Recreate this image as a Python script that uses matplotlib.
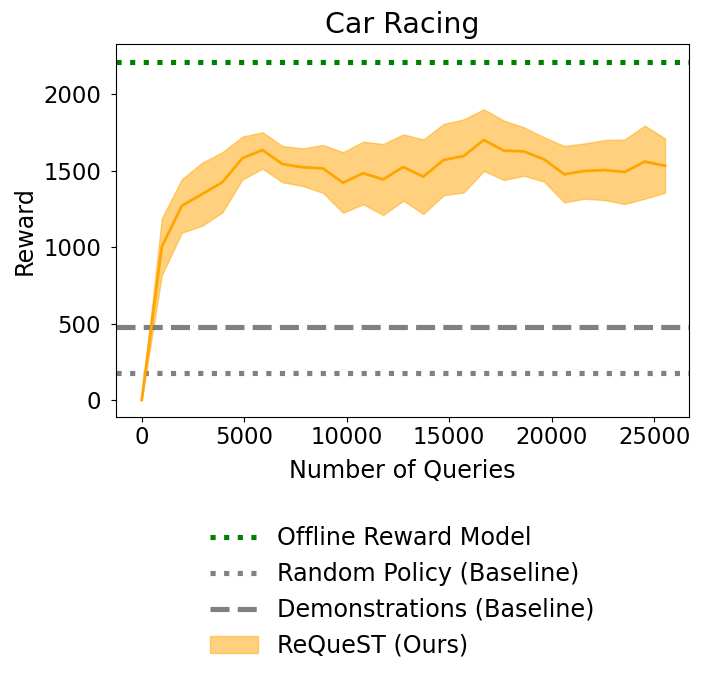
import numpy as np
import matplotlib.pyplot as plt

# number of queries at each evaluation step
queries = [0, 980, 1960, 2950, 3930, 4910, 5890, 6870, 7850, 8840, 9820,
           10800, 11780, 12760, 13740, 14730, 15710, 16690, 17670, 18650,
           19630, 20620, 21600, 22580, 23560, 24540, 25530]

mean_reward = [0, 1002, 1270, 1346, 1423, 1580, 1634, 1542, 1521, 1514, 1420,
               1482, 1442, 1523, 1460, 1569, 1595, 1699, 1630, 1625, 1573,
               1475, 1497, 1503, 1490, 1558, 1531]

upper_reward = [0, 1187, 1444, 1551, 1619, 1721, 1750, 1660, 1645, 1667, 1619,
                1688, 1673, 1736, 1703, 1804, 1834, 1900, 1826, 1782, 1717,
                1660, 1677, 1699, 1703, 1793, 1710]

lower_reward = [0, 817, 1094, 1139, 1226, 1442, 1512, 1423, 1399, 1355, 1224,
                1279, 1209, 1303, 1216, 1338, 1357, 1497, 1438, 1466, 1427,
                1292, 1316, 1307, 1281, 1316, 1355]

offline_reward = 2209
random_reward = 174
demo_reward = 479

plt.rcParams['font.family'] = ['DejaVu Sans']
fs = 17.2

fig = plt.figure(figsize=(7.05, 6.8), dpi=100)
ax = fig.add_axes([0.1641, 0.3872, 0.8132, 0.5477])

# baselines
l1 = ax.axhline(offline_reward, color='green', linestyle=':', linewidth=3.7,
                label='Offline Reward Model')
l2 = ax.axhline(random_reward, color='gray', linestyle=':', linewidth=3.7,
                label='Random Policy (Baseline)')
l3 = ax.axhline(demo_reward, color='gray', linestyle='--', linewidth=3.7,
                label='Demonstrations (Baseline)')
# ReQueST mean and spread
band = ax.fill_between(queries, lower_reward, upper_reward, color='orange',
                       alpha=0.5, label='ReQueST (Ours)')
ax.plot(queries, mean_reward, color='orange', linewidth=2)

ax.set_xlim(-1270, 26700)
ax.set_ylim(-109, 2325)
ax.set_xticks([0, 5000, 10000, 15000, 20000, 25000])
ax.set_yticks([0, 500, 1000, 1500, 2000])
ax.tick_params(axis='x', labelsize=16.4)
ax.tick_params(axis='y', labelsize=16.4, pad=7)
ax.set_title('Car Racing', fontsize=20.5, pad=8)
ax.set_xlabel('Number of Queries', fontsize=fs, labelpad=7)
ax.set_ylabel('Reward', fontsize=fs, labelpad=5)

fig.legend(handles=[l1, l2, l3, band], loc='center',
           bbox_to_anchor=(0.571, 0.1294), frameon=False, fontsize=fs,
           labelspacing=0.5)

fig.savefig('out.png', dpi=100)
